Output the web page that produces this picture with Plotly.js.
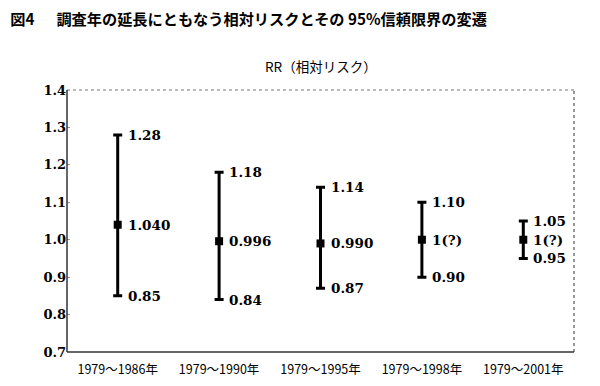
<!DOCTYPE html>
<html><head><meta charset="utf-8">
<script src="https://cdn.plot.ly/plotly-3.0.1.min.js"></script>
<style>html,body{margin:0;padding:0;background:#fff}#c{width:600px;height:386px}</style>
</head><body><div id="c"></div>
<script>
const periods = ["1979～1986年","1979～1990年","1979～1995年","1979～1998年","1979～2001年"];
const rr = [1.040, 0.996, 0.990, 1.0, 1.0];
const upper = [1.28, 1.18, 1.14, 1.10, 1.05];
const lower = [0.85, 0.84, 0.87, 0.90, 0.95];
const rrLabels = ["1.040","0.996","0.990","1(?)","1(?)"];
const upperLabels = ["1.28","1.18","1.14","1.10","1.05"];
const lowerLabels = ["0.85","0.84","0.87","0.90","0.95"];
const yTicks = [0.7,0.8,0.9,1.0,1.1,1.2,1.3,1.4];

const labelFont = {family:"DejaVu Serif", size:13.5, color:"#000", weight:"bold"};
const ann = [];
periods.forEach((p,i)=>{
  ann.push({x:p, y:upper[i], text:upperLabels[i], xref:'x', yref:'y', xanchor:'left', yanchor:'middle', xshift:8, showarrow:false, font:labelFont});
  ann.push({x:p, y:rr[i], text:rrLabels[i], xref:'x', yref:'y', xanchor:'left', yanchor:'middle', xshift:8, showarrow:false, font:labelFont});
  ann.push({x:p, y:lower[i], text:lowerLabels[i], xref:'x', yref:'y', xanchor:'left', yanchor:'middle', xshift:8, showarrow:false, font:labelFont});
});
ann.push({x:0.5, y:1, xref:'paper', yref:'paper', yshift:12, xanchor:'center', yanchor:'bottom', showarrow:false,
  text:"RR（相対リスク）", font:{family:"Noto Sans CJK JP", size:13.5, color:"#000"}});
ann.push({x:10, y:20, xref:'pixel', yref:'pixel', showarrow:false, text:'', visible:false});

const trace = {
  type:'scatter', mode:'markers', x:periods, y:rr,
  marker:{symbol:'square', size:8, color:'#000'},
  error_y:{type:'data', symmetric:false,
    array: upper.map((u,i)=>u-rr[i]),
    arrayminus: lower.map((l,i)=>rr[i]-l),
    thickness:3, width:4.5, color:'#000'},
  hoverinfo:'none'
};

const layout = {
  width:600, height:386,
  margin:{l:67, r:26, t:90, b:34},
  paper_bgcolor:'#fff', plot_bgcolor:'#fff',
  showlegend:false,
  title:{text:"図4\u3000\u00A0\u00A0調査年の延長にともなう相対リスクとその 95%信頼限界の変遷", x:0.017, xanchor:'left', y:1-20/386, yanchor:'middle',
    font:{family:"Noto Sans CJK JP", size:15.2, color:'#000', weight:'bold'}},
  xaxis:{type:'category', range:[-0.5,4.5], showgrid:false, zeroline:false, showline:false, ticks:'', ticklabelstandoff:8,
    tickfont:{family:"Noto Sans CJK JP", size:12.5, color:'#000'}, fixedrange:true},
  yaxis:{range:[0.7,1.4], tickvals:yTicks, ticktext:yTicks.map(v=>v.toFixed(1)), showgrid:false, zeroline:false, showline:false,
    ticks:'inside', ticklen:3, tickcolor:'#999', tickfont:{family:"DejaVu Serif", size:13, color:'#000', weight:'bold'}, fixedrange:true},
  shapes:[
    {type:'line', xref:'paper', yref:'paper', x0:0, x1:1, y0:1, y1:1, line:{color:'#777', width:1, dash:'dot'}},
    {type:'line', xref:'paper', yref:'paper', x0:1, x1:1, y0:0, y1:1, line:{color:'#777', width:1.5, dash:'dot'}},
    {type:'line', xref:'paper', yref:'paper', x0:0, x1:0, y0:0, y1:1, line:{color:'#333', width:1.5}},
    {type:'line', xref:'paper', yref:'paper', x0:0, x1:1, y0:0, y1:0, line:{color:'#333', width:1.5}}
  ],
  annotations:ann.filter(a=>a.visible!==false)
};
Plotly.newPlot('c',[trace],layout,{displayModeBar:false, staticPlot:true});
</script></body></html>
